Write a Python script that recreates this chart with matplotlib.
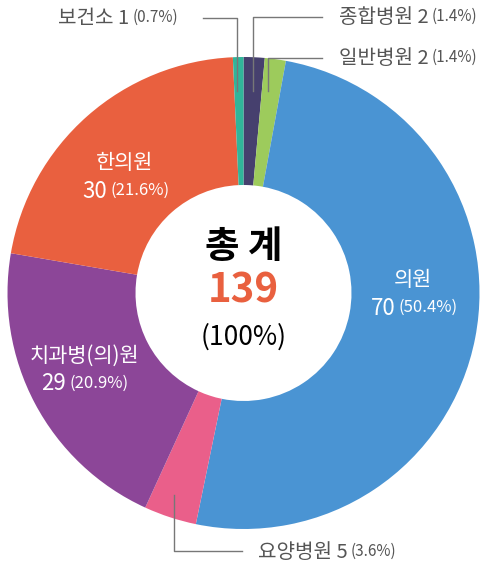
import numpy as np
import matplotlib.pyplot as plt

plt.rcParams['font.family'] = ['Noto Sans CJK KR', 'DejaVu Sans']

# data (clockwise from 12 o'clock)
names = ['종합병원', '일반병원', '의원', '요양병원', '치과병(의)원', '한의원', '보건소']
counts = [2, 2, 70, 5, 29, 30, 1]
pcts = ['1.4%', '1.4%', '50.4%', '3.6%', '20.9%', '21.6%', '0.7%']
colors = ['#46406e', '#9dcb5c', '#4a94d3', '#ea5f8a', '#8c4698', '#e9603f', '#31b59a']
total = 139

W, H = 489, 566
fig = plt.figure(figsize=(W / 100, H / 100), dpi=100)
ax = fig.add_axes([0, 0, 1, 1])

cx, cy = 243.5, H - 293
R, r_in = 236, 108

ax.pie(counts, colors=colors, startangle=90, counterclock=False,
       center=(cx, cy), radius=R, frame=True,
       wedgeprops=dict(width=R - r_in, linewidth=0))
ax.set_xlim(0, W)
ax.set_ylim(0, H)
ax.set_aspect('equal')
ax.axis('off')

fig.canvas.draw()
rend = fig.canvas.get_renderer()


def two_part(x, y, main, small, color, size=14.5, small_size=11, ha='left'):
    # main text then smaller percentage right after it
    t1 = ax.text(x, H - y, main, fontsize=size, color=color, ha='left', va='center')
    t2 = ax.text(x, H - y, small, fontsize=small_size, color=color, ha='left', va='center')
    w1 = t1.get_window_extent(rend).width
    w2 = t2.get_window_extent(rend).width
    gap = 3
    start = x if ha == 'left' else x - (w1 + gap + w2) / 2
    t1.set_x(start)
    t2.set_x(start + w1 + gap)
    t2.set_y(H - y + 0.5)


gray = '#555555'
lc = '#777777'

# outer labels with leader lines
two_part(339, 17, f'{names[0]} {counts[0]}', f'({pcts[0]})', gray)
ax.plot([322, 253, 253], [H - 17, H - 17, H - 91], color=lc, lw=1)
two_part(339, 58, f'{names[1]} {counts[1]}', f'({pcts[1]})', gray)
ax.plot([322, 268, 268], [H - 58, H - 58, H - 91], color=lc, lw=1)
two_part(58, 18, f'{names[6]} {counts[6]}', f'({pcts[6]})', gray)
ax.plot([203, 237, 237], [H - 18, H - 18, H - 91], color=lc, lw=1)
two_part(258, 552, f'{names[3]} {counts[3]}', f'({pcts[3]})', gray)
ax.plot([174, 174, 242], [H - 495, H - 551, H - 551], color=lc, lw=1)

# inner labels
for i, (lx, ly) in {2: (413, 280), 5: (125, 163), 4: (84, 356)}.items():
    ax.text(lx, H - ly, names[i], fontsize=15, color='white', ha='center', va='center')
    two_part(lx + 1, ly + 28, str(counts[i]), f'({pcts[i]})', 'white',
             size=16, small_size=12, ha='center')

# centre
ax.text(cx, H - 246, '총 계', fontsize=27, fontweight='bold', color='black',
        ha='center', va='center')
ax.text(cx, H - 291, str(total), fontsize=29, fontweight='bold', color='#e9603f',
        ha='center', va='center')
ax.text(cx, H - 337, '(100%)', fontsize=19, color='black', ha='center', va='center')

fig.savefig('out.png', dpi=100)
